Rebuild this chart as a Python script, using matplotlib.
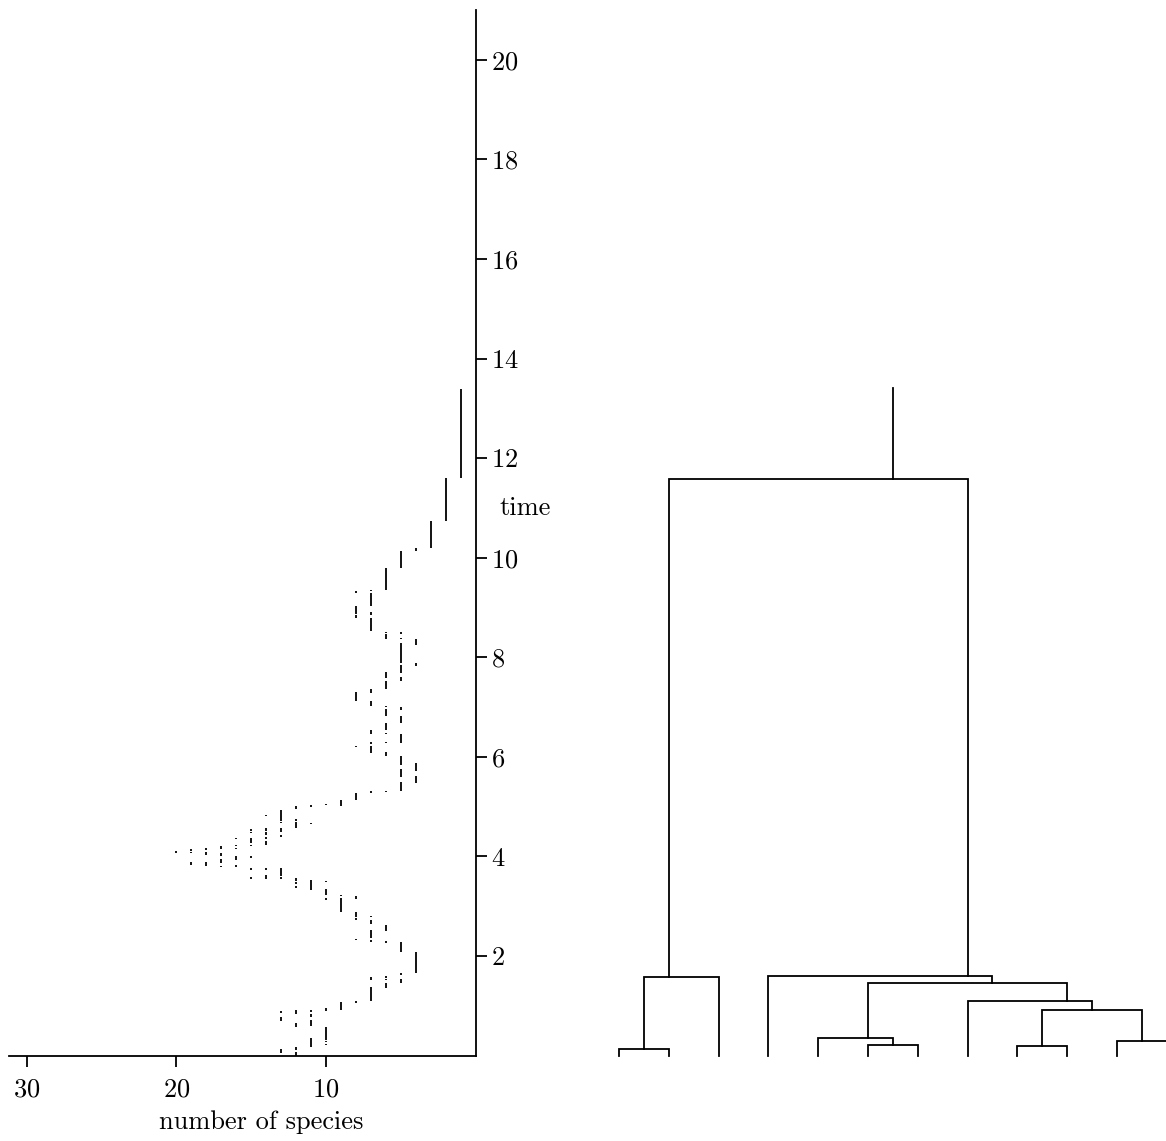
#!/usr/bin/env python3
"""Lineages through time (left) next to the reconstructed tree (right)."""

import matplotlib
matplotlib.use("Agg")
import matplotlib.pyplot as plt
import numpy as np

plt.rcParams["font.family"] = ["cmr10", "DejaVu Serif"]
plt.rcParams["axes.formatter.use_mathtext"] = True
plt.rcParams["font.size"] = 19

# lineage count held over [bottom, top] of time
ltt_count = [
    1, 2, 3, 4, 5, 6, 7, 8, 7, 8, 7, 8, 7, 6, 5, 6, 5, 4, 5, 4,
    5, 6, 5, 6, 7, 8, 7, 6, 5, 6, 5, 6, 7, 6, 5, 6, 7, 8, 7, 6,
    5, 4, 5, 4, 5, 6, 7, 8, 9, 10, 11, 12, 13, 14, 12, 11, 12, 13,
    14, 13, 13, 14, 13, 14, 14,
    15, 15, 15, 15, 15, 15, 15,
    16, 16, 16, 16, 16,
    17, 17, 17, 17,
    18, 18, 18,
    19, 19, 19,
    20,
    14, 14, 13, 13, 12, 12, 12, 11, 10, 10, 10, 9, 9, 8,
    8, 8, 8, 7, 7, 7, 7, 6, 6, 5, 4, 5, 6, 7, 6, 5, 6, 7, 8, 9,
    10, 11, 12, 13, 11, 13, 11, 12, 10, 11, 10, 10, 12, 13, 12,
]
ltt_top = [
    13.39, 11.59, 10.74, 10.20, 10.13, 9.79, 9.36, 9.34, 9.28, 9.02,
    8.90, 8.84, 8.79, 8.51, 8.51, 8.47, 8.38, 8.37, 8.28, 7.88,
    7.85, 7.70, 7.60, 7.53, 7.36, 7.30, 7.13, 7.03, 7.01, 6.96,
    6.81, 6.68, 6.54, 6.48, 6.45, 6.29, 6.29, 6.22, 6.22, 6.09,
    6.02, 5.87, 5.76, 5.62, 5.49, 5.32, 5.32, 5.27, 5.14, 5.05,
    5.03, 5.02, 4.94, 4.84, 4.75, 4.67, 4.69, 4.69,
    4.56, 4.57, 4.52, 4.48, 4.43, 4.38, 4.30,
    4.54, 4.48, 4.37, 4.23, 4.00, 3.77, 3.59,
    4.36, 4.23, 4.16, 4.00, 3.83,
    4.20, 4.06, 3.95, 3.81,
    4.16, 4.08, 3.88,
    4.14, 4.08, 3.88,
    4.10,
    3.76, 3.63, 3.76, 3.58, 3.56, 3.49, 3.41, 3.53, 3.51, 3.35,
    3.17, 3.23, 3.16, 3.21,
    2.88, 2.76, 2.33, 2.81, 2.72, 2.53, 2.31, 2.63, 2.30, 2.28,
    2.08, 1.65, 1.59, 1.58, 1.54, 1.53, 1.45, 1.37, 1.09, 1.07,
    0.95, 0.92, 0.92, 0.89, 0.84, 0.78, 0.72, 0.65, 0.57, 0.35,
    0.30, 0.24, 0.18, 0.13, 0.07,
]
ltt_bottom = [
    11.59, 10.74, 10.20, 10.13, 9.79, 9.35, 9.32, 9.28, 9.03, 8.87,
    8.84, 8.79, 8.52, 8.49, 8.47, 8.37, 8.36, 8.25, 7.88, 7.83,
    7.68, 7.58, 7.53, 7.36, 7.28, 7.13, 7.03, 7.01, 6.94, 6.81,
    6.67, 6.54, 6.45, 6.45, 6.27, 6.27, 6.26, 6.20, 6.07, 6.02,
    5.84, 5.71, 5.59, 5.47, 5.32, 5.30, 5.27, 5.13, 5.02, 5.03,
    4.99, 4.95, 4.72, 4.81, 4.71, 4.65, 4.57, 4.67,
    4.51, 4.53, 4.49, 4.43, 4.38, 4.35, 4.22,
    4.50, 4.46, 4.27, 4.20, 3.96, 3.73, 3.55,
    4.34, 4.20, 4.14, 3.93, 3.78,
    4.14, 4.00, 3.86, 3.79,
    4.12, 4.02, 3.80,
    4.10, 4.06, 3.83,
    4.06,
    3.73, 3.55, 3.61, 3.55, 3.51, 3.45, 3.37, 3.33, 3.49, 3.23,
    3.13, 3.20, 2.88, 3.15,
    2.79, 2.72, 2.31, 2.78, 2.64, 2.36, 2.28, 2.51, 2.26, 2.08,
    1.65, 1.61, 1.56, 1.52, 1.51, 1.45, 1.36, 1.09, 1.05, 0.92,
    0.90, 0.88, 0.84, 0.85, 0.78, 0.70, 0.60, 0.58, 0.32, 0.18,
    0.27, 0.21, 0.11, 0.05, 0.00,
]

# reconstructed tree: tips 0..11, internal node k = 12 + row
n_tips = 12
merges = [
    (0, 1, 0.14),
    (12, 2, 1.58),
    (5, 6, 0.21),
    (4, 14, 0.36),
    (8, 9, 0.20),
    (10, 11, 0.30),
    (16, 17, 0.91),
    (7, 18, 1.09),
    (15, 19, 1.46),
    (3, 20, 1.60),
    (13, 21, 11.58),
]
root_top = 13.40

species_ticks = [10, 20, 30]
time_ticks = [2, 4, 6, 8, 10, 12, 14, 16, 18, 20]

LW = 1.3
W, H = 1166, 1141
BOTTOM, TOP = 1055.5, 10.0


def plot_ltt(ax):
    ax.vlines(ltt_count, ltt_bottom, ltt_top, colors="black", lw=LW)
    ax.set_xlim(31.2, 0)
    ax.set_ylim(0, 21)
    for side in ("top", "left"):
        ax.spines[side].set_visible(False)
    for side in ("bottom", "right"):
        ax.spines[side].set_linewidth(LW)
    ax.yaxis.tick_right()
    ax.set_xticks(species_ticks)
    ax.set_yticks(time_ticks)
    ax.tick_params(direction="out", length=8, width=LW, labelsize=19)
    ax.tick_params(axis="x", pad=8)
    ax.tick_params(axis="y", pad=3)
    ax.set_xlabel("number of species", va="baseline")
    ax.xaxis.set_label_coords(0.5415, -0.0703)
    ax.set_ylabel("time", rotation=0, ha="left", va="center")
    ax.yaxis.set_label_position("right")
    ax.yaxis.set_label_coords(1.052, 0.5345)


def plot_tree(ax):
    xpos = {i: float(i) for i in range(n_tips)}
    height = {i: 0.0 for i in range(n_tips)}
    members = {i: [i] for i in range(n_tips)}
    for k, (a, b, h) in enumerate(merges):
        node = n_tips + k
        members[node] = members[a] + members[b]
        xpos[node] = np.mean(members[node])
        height[node] = h
        ax.plot([xpos[a], xpos[a], xpos[b], xpos[b]],
                [height[a], h, h, height[b]],
                color="black", lw=LW, clip_on=False,
                solid_joinstyle="miter")
    root = n_tips + len(merges) - 1
    ax.plot([xpos[root], xpos[root]], [height[root], root_top],
            color="black", lw=LW)
    x0 = (594 - 619) / 49.786
    ax.set_xlim(x0, x0 + 572 / 49.786)
    ax.set_ylim(0, 21)
    ax.axis("off")


def main():
    fig = plt.figure(figsize=(W / 100, H / 100), dpi=100)
    b = (H - BOTTOM) / H
    h = (BOTTOM - TOP) / H
    ax1 = fig.add_axes([9 / W, b, 466.5 / W, h])
    ax2 = fig.add_axes([594 / W, b, 572 / W, h])
    plot_ltt(ax1)
    plot_tree(ax2)
    fig.savefig("out.png", dpi=100)
    plt.close(fig)


if __name__ == "__main__":
    main()
